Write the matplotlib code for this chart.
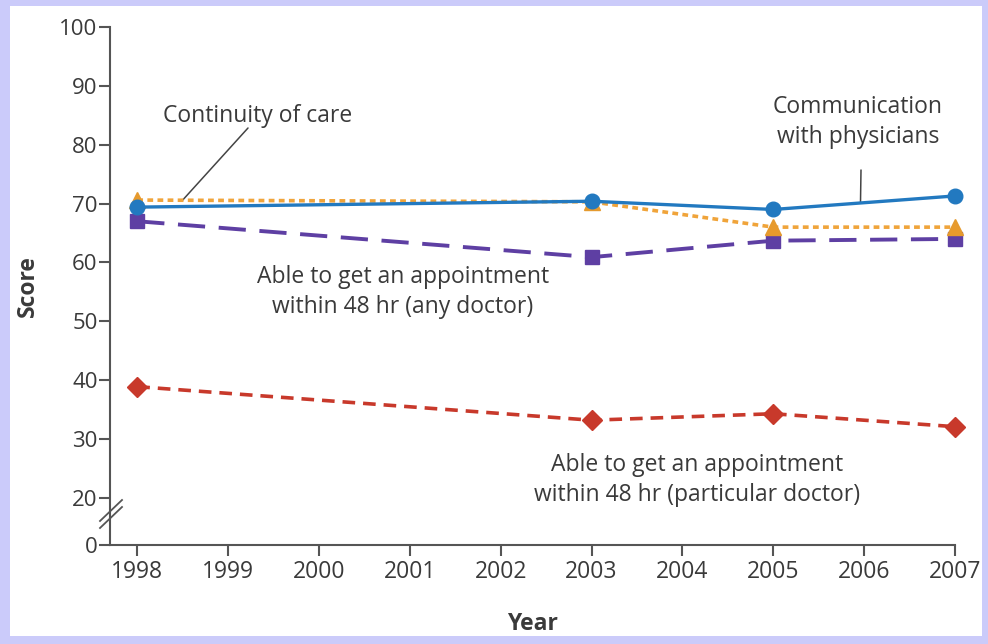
import numpy as np
import matplotlib
matplotlib.use("Agg")
import matplotlib.pyplot as plt
from matplotlib.lines import Line2D

years = [1998, 2003, 2005, 2007]
communication = [69.4, 70.4, 69.0, 71.3]
continuity = [70.6, 70.3, 66.0, 66.0]
any_doctor = [67.0, 60.9, 63.7, 64.0]
particular_doctor = [38.9, 33.2, 34.3, 32.1]
xtick_years = list(range(1998, 2008))
ytick_vals = [0, 20, 30, 40, 50, 60, 70, 80, 90, 100]

W, H = 988, 644
plt.rcParams['font.family'] = ['Open Sans', 'DejaVu Sans']
fig = plt.figure(figsize=(W / 100, H / 100), dpi=100)
fig.patch.set_facecolor('#cbcbfa')
# white panel
panel = matplotlib.patches.Rectangle((10 / W, 1 - 636 / H), 972 / W, 630 / H,
                                     transform=fig.transFigure, facecolor='white',
                                     edgecolor='none', zorder=-10)
fig.patches.append(panel)

ax = fig.add_axes([110 / W, 1 - 545 / H, (955 - 110) / W, (545 - 27) / H])
ax.set_zorder(5)
ax.set_facecolor('none')


def fwd(v):
    v = np.asarray(v, dtype=float)
    return np.where(v >= 20, v, 12 + v * 0.4)


def inv(p):
    p = np.asarray(p, dtype=float)
    return np.where(p >= 20, p, (p - 12) / 0.4)


ax.set_yscale('function', functions=(fwd, inv))
ax.set_ylim(0, 100)
ax.set_xlim(1997.7, 2007)

txt = '#3a3a3a'
spine = '#555555'

ax.plot(years, particular_doctor, color='#c8392b', lw=2.6, ls=(0, (3.5, 2.2)),
        marker='D', ms=10, mec='#c8392b', mfc='#c8392b', zorder=3, clip_on=False)
ax.plot(years, any_doctor, color='#5e3fa3', lw=2.8, ls=(0, (7, 3.5)),
        marker='s', ms=10.5, mec='#5e3fa3', mfc='#5e3fa3', zorder=3, clip_on=False)
ax.plot(years, continuity, color='#f0a43a', lw=2.6, ls=(0, (1.6, 1.2)),
        marker='^', ms=11.5, mec='#e59a2e', mfc='#e89a2c', zorder=4, clip_on=False)
ax.plot(years, communication, color='#2279c0', lw=2.4, ls='-',
        marker='o', ms=10.5, mec='#2279c0', mfc='#2279c0', zorder=5, clip_on=False)

for s in ['top', 'right']:
    ax.spines[s].set_visible(False)
for s in ['left', 'bottom']:
    ax.spines[s].set_color(spine)
    ax.spines[s].set_linewidth(1.5)

fs = 16.5
ax.set_xticks(xtick_years)
ax.set_xticklabels([str(y) for y in xtick_years])
ax.set_yticks(ytick_vals)
ax.set_yticklabels([str(v) for v in ytick_vals])
ax.tick_params(axis='both', direction='out', length=8, width=1.5, color=spine,
               labelcolor=txt, labelsize=fs)
ax.tick_params(axis='y', pad=1, labelsize=16)
ax.tick_params(axis='x', pad=3)

ax.set_xlabel('Year', fontsize=fs, fontweight='bold', color=txt, labelpad=20)
ax.set_ylabel('Score', fontsize=fs, fontweight='bold', color=txt, labelpad=14)

# axis break marks
for dy in (0, 7):
    fig.add_artist(Line2D([100 / W, 122 / W], [1 - (528 - dy) / H, 1 - (507 - dy) / H],
                          transform=fig.transFigure, color=spine, lw=1.3, zorder=10))

ls_ = 1.38
fig.text(258 / W, 1 - 116 / H, 'Continuity of care', ha='center', va='center',
         fontsize=fs, color=txt)
fig.text(858 / W, 1 - 122 / H, 'Communication\nwith physicians', ha='center', va='center',
         fontsize=fs, color=txt, linespacing=ls_)
fig.text(403 / W, 1 - 292 / H, 'Able to get an appointment\nwithin 48 hr (any doctor)',
         ha='center', va='center', fontsize=fs, color=txt, linespacing=ls_)
fig.text(697 / W, 1 - 480 / H, 'Able to get an appointment\nwithin 48 hr (particular doctor)',
         ha='center', va='center', fontsize=fs, color=txt, linespacing=ls_)

ax.annotate('', xy=(1998.5, 70.6), xycoords='data',
            xytext=(248 / W, 1 - 128 / H), textcoords='figure fraction',
            arrowprops=dict(arrowstyle='-', color='#444444', lw=1.1, shrinkA=0, shrinkB=0))
ax.annotate('', xy=(2005.96, 70.3), xycoords='data',
            xytext=(861 / W, 1 - 170 / H), textcoords='figure fraction',
            arrowprops=dict(arrowstyle='-', color='#444444', lw=1.1, shrinkA=0, shrinkB=0))

fig.savefig('out.png', dpi=100, facecolor=fig.get_facecolor())
